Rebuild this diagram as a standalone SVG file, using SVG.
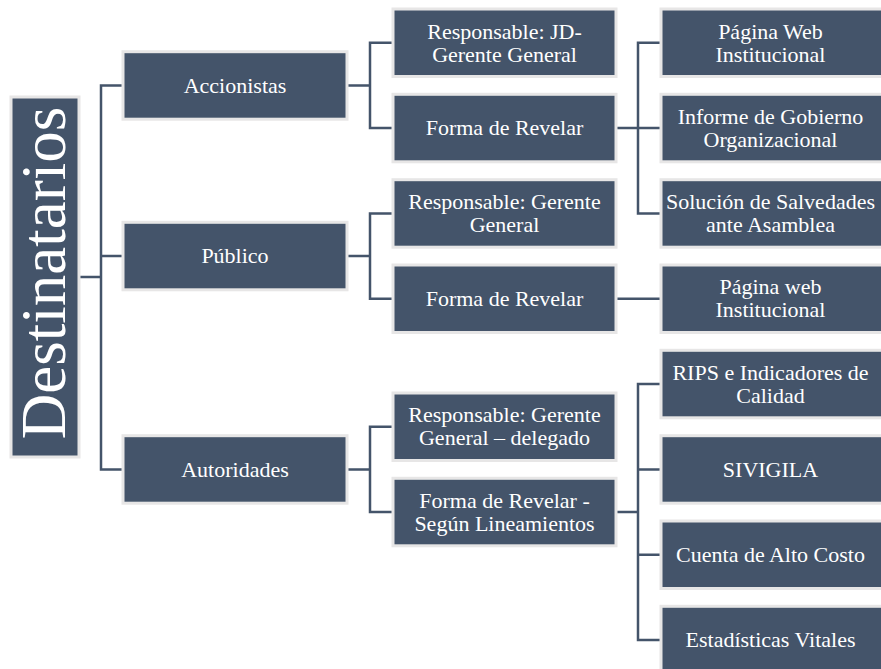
<svg xmlns="http://www.w3.org/2000/svg" width="881" height="669" viewBox="0 0 881 669">
<style>
.box{fill:#44546A;stroke:#E7E6E6;stroke-width:3}
.t{font-family:"Liberation Serif","Times New Roman",serif;font-size:22px;fill:#FFFFFF;text-anchor:middle}
.c{fill:none;stroke:#44546A;stroke-width:2.5}
</style>
<rect width="881" height="669" fill="#FFFFFF"/>
<g id="connectors">
<path class="c" d="M80,277 H101 M123,85.4 H101 V469.4 H123 M101,256.1 H123"/>
<path class="c" d="M347,85.4 H370 M393,42.75 H370 V128.1 H393"/>
<path class="c" d="M347,256.1 H370 M393,213.4 H370 V298.75 H393"/>
<path class="c" d="M347,469.4 H370 M393,426.75 H370 V512.1 H393"/>
<path class="c" d="M616,128.1 H638 M661,42.75 H638 V213.4 H661 M638,128.1 H661"/>
<path class="c" d="M616,298.75 H661"/>
<path class="c" d="M616,512.1 H638 M661,384.1 H638 V640.1 H661 M638,469.4 H661 M638,554.75 H661"/>
</g>
<g id="destinatarios">
<rect class="box" x="11" y="97" width="68" height="360"/>
<text transform="translate(65,273) rotate(-90)" style="font-family:'Liberation Serif','Times New Roman',serif;font-size:63px;fill:#FFFFFF;text-anchor:middle">Destinatarios</text>
</g>
<g id="accionistas">
<rect class="box" x="123" y="51.7" width="224" height="67.5"/>
<text class="t" x="235" y="92.8">Accionistas</text>
</g>
<g id="publico">
<rect class="box" x="123" y="222.3" width="224" height="67.5"/>
<text class="t" x="235" y="263.3">Público</text>
</g>
<g id="autoridades">
<rect class="box" x="123" y="435.7" width="224" height="67.5"/>
<text class="t" x="235" y="476.8">Autoridades</text>
</g>
<g id="acc-responsable">
<rect class="box" x="393" y="9" width="223" height="67.5"/>
<text class="t" x="504.5" y="38.5">Responsable: JD-</text>
<text class="t" x="504.5" y="61.5">Gerente General</text>
</g>
<g id="acc-forma">
<rect class="box" x="393" y="94.3" width="223" height="67.5"/>
<text class="t" x="504.5" y="135.3">Forma de Revelar</text>
</g>
<g id="pub-responsable">
<rect class="box" x="393" y="179.7" width="223" height="67.5"/>
<text class="t" x="504.5" y="209">Responsable: Gerente</text>
<text class="t" x="504.5" y="232">General</text>
</g>
<g id="pub-forma">
<rect class="box" x="393" y="265" width="223" height="67.5"/>
<text class="t" x="504.5" y="306">Forma de Revelar</text>
</g>
<g id="aut-responsable">
<rect class="box" x="393" y="393" width="223" height="67.5"/>
<text class="t" x="504.5" y="422.3">Responsable: Gerente</text>
<text class="t" x="504.5" y="445.3">General – delegado</text>
</g>
<g id="aut-forma">
<rect class="box" x="393" y="478.3" width="223" height="67.5"/>
<text class="t" x="504.5" y="507.6">Forma de Revelar -</text>
<text class="t" x="504.5" y="530.6">Según Lineamientos</text>
</g>
<g id="pagina-web-1">
<rect class="box" x="661" y="9" width="222" height="67.5"/>
<text class="t" x="770.5" y="38.5">Página Web</text>
<text class="t" x="770.5" y="61.5">Institucional</text>
</g>
<g id="informe">
<rect class="box" x="661" y="94.3" width="222" height="67.5"/>
<text class="t" x="770.5" y="123.6">Informe de Gobierno</text>
<text class="t" x="770.5" y="146.6">Organizacional</text>
</g>
<g id="solucion">
<rect class="box" x="661" y="179.7" width="222" height="67.5"/>
<text class="t" x="770.5" y="209">Solución de Salvedades</text>
<text class="t" x="770.5" y="232">ante Asamblea</text>
</g>
<g id="pagina-web-2">
<rect class="box" x="661" y="265" width="222" height="67.5"/>
<text class="t" x="770.5" y="294.2">Página web</text>
<text class="t" x="770.5" y="317.2">Institucional</text>
</g>
<g id="rips">
<rect class="box" x="661" y="350.3" width="222" height="67.5"/>
<text class="t" x="770.5" y="379.6">RIPS e Indicadores de</text>
<text class="t" x="770.5" y="402.6">Calidad</text>
</g>
<g id="sivigila">
<rect class="box" x="661" y="435.7" width="222" height="67.5"/>
<text class="t" x="770.5" y="476.8">SIVIGILA</text>
</g>
<g id="cuenta">
<rect class="box" x="661" y="521" width="222" height="67.5"/>
<text class="t" x="770.5" y="562.1">Cuenta de Alto Costo</text>
</g>
<g id="estadisticas">
<rect class="box" x="661" y="606.3" width="222" height="67.5"/>
<text class="t" x="770.5" y="647.4">Estadísticas Vitales</text>
</g>
</svg>
